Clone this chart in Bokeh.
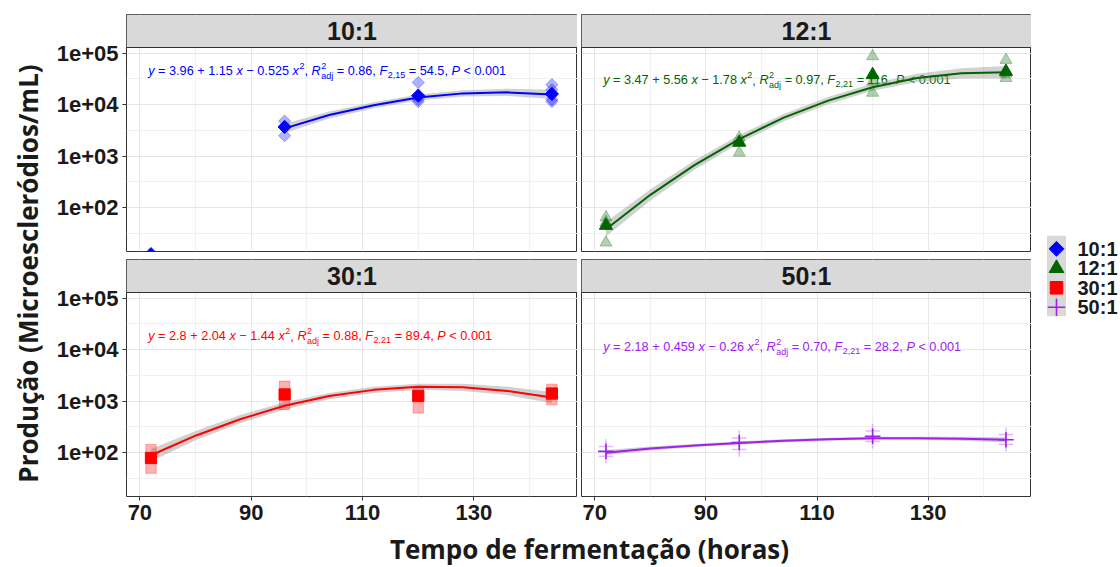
import math
from bokeh.plotting import figure
from bokeh.models import (Range1d, LogAxis, LinearAxis, FixedTicker, Grid, Label, Span,
                          CustomJSTickFormatter)
from bokeh.layouts import row, column
from bokeh.core.properties import value
from bokeh.embed import file_html
from bokeh.resources import INLINE

# ------------------------------------------------------------------ data
panel_labels = ["10:1", "12:1", "30:1", "50:1"]
colors = {"10:1": "#0000FF", "12:1": "#006400", "30:1": "#FF0000", "50:1": "#A020F0"}
markers = {"10:1": "diamond", "12:1": "triangle", "30:1": "square", "50:1": "cross"}

hours = [72, 96, 120, 144]
mean_10 = [12.5, 3700, 15000, 16200]
mean_12 = [45, 1850, 38000, 44000]
mean_30 = [79, 1350, 1260, 1410]
mean_50 = [106, 158, 209, 178]

rep_hours_10 = [96, 96, 120, 120, 120, 144, 144, 144, 144]
rep_10 = [4800, 2500, 27000, 11500, 12600, 24500, 19500, 12600, 11500]
rep_hours_12 = [72, 72, 72, 96, 96, 120, 120, 120, 144, 144, 144]
rep_12 = [65, 52, 21, 2300, 1170, 87000, 28000, 17000, 74000, 40000, 33000]
rep_hours_30 = [72, 72, 96, 96, 120, 120, 144, 144]
rep_30 = [115, 50, 1950, 870, 1450, 740, 1700, 1070]
rep_hours_50 = [72, 72, 96, 96, 120, 120, 144, 144]
rep_50 = [132, 85, 193, 115, 263, 166, 224, 145]

# fitted curves (log10 of production) and half-width of the grey band
fit_hours_10 = [96, 104, 112, 120, 128, 136, 144]
fit_hours = [72, 80, 88, 96, 104, 112, 120, 128, 136, 144]
fit_log_10 = [3.54, 3.80, 3.99, 4.14, 4.22, 4.24, 4.20]
fit_log_12 = [1.58, 2.25, 2.83, 3.33, 3.75, 4.08, 4.34, 4.52, 4.61, 4.63]
fit_log_30 = [1.95, 2.33, 2.65, 2.91, 3.10, 3.22, 3.28, 3.27, 3.20, 3.07]
fit_log_50 = [2.00, 2.08, 2.14, 2.19, 2.23, 2.26, 2.28, 2.28, 2.27, 2.25]
band_10 = [0.09, 0.07, 0.06, 0.06, 0.06, 0.07, 0.09]
band_12 = [0.14, 0.11, 0.09, 0.08, 0.07, 0.07, 0.07, 0.08, 0.10, 0.12]
band_30 = [0.12, 0.09, 0.08, 0.07, 0.06, 0.06, 0.06, 0.07, 0.08, 0.11]
band_50 = [0.05, 0.04, 0.03, 0.03, 0.03, 0.03, 0.03, 0.03, 0.04, 0.05]

# equation texts: intercept, linear, quadratic, R2adj, F df, F value
eq_10 = ["3.96", "1.15", "0.525", "0.86", "2,15", "54.5"]
eq_12 = ["3.47", "5.56", "1.78", "0.97", "2,21", "116"]
eq_30 = ["2.8", "2.04", "1.44", "0.88", "2,21", "89.4"]
eq_50 = ["2.18", "0.459", "0.26", "0.70", "2,21", "28.2"]
eq_pos_log = [4.655, 4.474, 4.266, 4.057]

x_ticks = [70, 90, 110, 130]
x_minor = [80, 100, 120, 140]
y_ticks = [1e2, 1e3, 1e4, 1e5]

series = {
    "10:1": dict(mean=mean_10, rh=rep_hours_10, rv=rep_10, fh=fit_hours_10, fl=fit_log_10, bd=band_10, eq=eq_10),
    "12:1": dict(mean=mean_12, rh=rep_hours_12, rv=rep_12, fh=fit_hours, fl=fit_log_12, bd=band_12, eq=eq_12),
    "30:1": dict(mean=mean_30, rh=rep_hours_30, rv=rep_30, fh=fit_hours, fl=fit_log_30, bd=band_30, eq=eq_30),
    "50:1": dict(mean=mean_50, rh=rep_hours_50, rv=rep_50, fh=fit_hours, fl=fit_log_50, bd=band_50, eq=eq_50),
}

# ------------------------------------------------------------------ style / layout
X_RANGE = (67.6, 148.6)
Y_LO_LOG, Y_HI_LOG = 1.149, 5.111
PANEL_PX, STRIP_PX = 204, 33
STRIP_TOP_LOG = Y_HI_LOG + STRIP_PX * (Y_HI_LOG - Y_LO_LOG) / PANEL_PX
FONT = "Liberation Sans"
TITLE_FONT = "Open Sans"
TICK_SIZE = "22px"
EQ_SIZE = 12.7
EQ_SMALL = 9.0
y_minor = [math.sqrt(a * b) for a, b in zip([10.0] + y_ticks[:-1], y_ticks)]

CW = {' ': 278, '.': 278, ',': 278, '=': 584, '+': 584, '\u2212': 584, '<': 584,
      'x': 500, 'y': 500, 'R': 722, 'F': 611, 'P': 667, 'a': 556, 'd': 556, 'j': 222}


def tw(s, size):
    return sum(CW.get(c, 556) for c in s) * size / 1000.0


def clean(p):
    p.center = [r for r in p.center if not isinstance(r, Grid)]


def marker_kw(name, size, alpha=1.0):
    col = colors[name]
    mk = markers[name]
    if mk == "cross":
        return dict(marker="cross", size=size * 1.25, line_color=col, line_width=1.6,
                    line_alpha=alpha)
    if mk == "diamond":
        return dict(marker="square", angle=math.pi / 4, size=size * 0.75, fill_color=col,
                    line_color=col, fill_alpha=alpha, line_alpha=alpha)
    if mk == "square":
        return dict(marker="square", size=size * 0.9, fill_color=col, line_color=col,
                    fill_alpha=alpha, line_alpha=alpha)
    return dict(marker="triangle", size=size * 1.05, fill_color=col, line_color=col,
                fill_alpha=alpha, line_alpha=alpha)


def add_eq(p, x, y, color, eq):
    b0, b1, b2, r2, df, fv = eq
    parts = [("y", "i"), (" = %s + %s " % (b0, b1), "n"), ("x", "i"),
             (" \u2212 %s " % b2, "n"), ("x", "i"), ("2", "sup"), (", ", "n"),
             ("R", "i"), (("2", "adj"), "supsub"), (" = %s, " % r2, "n"),
             ("F", "i"), (df, "sub"), (" = %s, " % fv, "n"), ("P", "i"),
             (" < 0.001", "n")]
    off = 0.0
    common = dict(x=x, y=y, text_color=color, text_font=FONT, text_baseline="middle",
                  text_align="left", level="underlay")
    for txt, kind in parts:
        if kind in ("n", "i"):
            lead = len(txt) - len(txt.lstrip(" "))
            s = txt.strip(" ")
            p.add_layout(Label(text=s, x_offset=off + tw(" " * lead, EQ_SIZE), y_offset=0,
                               text_font_size="%.1fpx" % EQ_SIZE,
                               text_font_style="italic" if kind == "i" else "normal", **common))
            off += tw(txt, EQ_SIZE)
        elif kind == "sup":
            p.add_layout(Label(text=txt, x_offset=off + 0.5, y_offset=5,
                               text_font_size="%.1fpx" % EQ_SMALL, **common))
            off += tw(txt, EQ_SMALL) + 0.5
        elif kind == "sub":
            p.add_layout(Label(text=txt, x_offset=off + 0.5, y_offset=-4,
                               text_font_size="%.1fpx" % EQ_SMALL, **common))
            off += tw(txt, EQ_SMALL) + 0.5
        else:
            sup, sub = txt
            p.add_layout(Label(text=sup, x_offset=off + 0.5, y_offset=5,
                               text_font_size="%.1fpx" % EQ_SMALL, **common))
            p.add_layout(Label(text=sub, x_offset=off + 0.5, y_offset=-5,
                               text_font_size="%.1fpx" % EQ_SMALL, **common))
            off += max(tw(sup, EQ_SMALL), tw(sub, EQ_SMALL)) + 0.5


def style_axis(ax):
    ax.axis_line_color = None
    ax.major_tick_line_color = "#333333"
    ax.major_tick_in = 0
    ax.major_tick_out = 4
    ax.minor_tick_line_color = None
    ax.major_label_text_font = FONT
    ax.major_label_text_font_style = "bold"
    ax.major_label_text_font_size = TICK_SIZE
    ax.major_label_text_color = "#1A1A1A"
    ax.major_label_standoff = 4


def panel(name, idx, width, height, left, top, bottom, show_y, show_x):
    # frame = strip (top STRIP_PX) + data panel (PANEL_PX)
    p = figure(width=width, height=height, x_range=Range1d(*X_RANGE),
               y_range=Range1d(10 ** Y_LO_LOG, 10 ** STRIP_TOP_LOG), y_axis_type="log",
               x_axis_location=None, y_axis_location=None,
               toolbar_location=None, output_backend="svg",
               min_border=0, min_border_left=left, min_border_top=top,
               min_border_bottom=bottom)
    clean(p)
    p.background_fill_color = "white"
    p.border_fill_color = "white"
    p.outline_line_color = "#333333"
    p.outline_line_width = 1
    xt = FixedTicker(ticks=x_ticks, minor_ticks=x_minor)
    yt = FixedTicker(ticks=y_ticks, minor_ticks=y_minor)
    for dim, tk in ((0, xt), (1, yt)):
        p.add_layout(Grid(dimension=dim, ticker=tk, grid_line_color="#E6E6E6",
                          grid_line_width=1, minor_grid_line_color="#F0F0F0",
                          minor_grid_line_width=1), "center")
    if show_y:
        ya = LogAxis(ticker=yt, formatter=CustomJSTickFormatter(
            code='return "1e+" + String(Math.round(Math.log10(tick))).padStart(2, "0");'))
        style_axis(ya)
        p.add_layout(ya, "left")
    if show_x:
        xa = LinearAxis(ticker=xt)
        style_axis(xa)
        p.add_layout(xa, "below")

    d = series[name]
    col = colors[name]
    add_eq(p, 71.5, 10 ** eq_pos_log[idx], col, d["eq"])
    lo = [10 ** (v - b) for v, b in zip(d["fl"], d["bd"])]
    hi = [10 ** (v + b) for v, b in zip(d["fl"], d["bd"])]
    p.varea(x=d["fh"], y1=lo, y2=hi, fill_color="#999999", fill_alpha=0.45)
    p.scatter(d["rh"], d["rv"], **marker_kw(name, 11.5, 0.3))
    p.line(d["fh"], [10 ** v for v in d["fl"]], line_color=col, line_width=2)
    p.scatter(hours, d["mean"], **marker_kw(name, 12.5))

    # facet strip on top of the frame
    p.quad(left=[X_RANGE[0]], right=[X_RANGE[1]], bottom=[10 ** Y_HI_LOG],
           top=[10 ** STRIP_TOP_LOG], fill_color="#D9D9D9", line_color=None)
    p.add_layout(Span(location=10 ** Y_HI_LOG, dimension="width", line_color="#333333",
                      line_width=1))
    p.text(x=[(X_RANGE[0] + X_RANGE[1]) / 2], y=[10 ** ((Y_HI_LOG + STRIP_TOP_LOG) / 2)],
           text=[name], text_align="center", text_baseline="middle",
           text_font=value(FONT), text_font_style="bold", text_font_size="25px",
           text_color="#1A1A1A")
    return p


def blank(width, height):
    b = figure(width=width, height=height, x_range=Range1d(0, width), y_range=Range1d(0, height),
               x_axis_location=None, y_axis_location=None, toolbar_location=None,
               output_backend="svg", min_border=0)
    clean(b)
    b.outline_line_color = None
    b.background_fill_color = "white"
    b.border_fill_color = "white"
    return b


LW, RW = 532, 454
LB, RB = 81, 4
BOT_BORDER = 33
TOP_H = 14 + STRIP_PX + PANEL_PX + 8          # 259
BOT_H = STRIP_PX + PANEL_PX + BOT_BORDER      # 270
ROW_H = TOP_H + BOT_H                         # 529

left_col = column(
    panel(panel_labels[0], 0, LW, TOP_H, LB, 14, 8, True, False),
    panel(panel_labels[2], 2, LW, BOT_H, LB, 0, BOT_BORDER, True, True),
    spacing=0)
right_col = column(
    panel(panel_labels[1], 1, RW, TOP_H, RB, 14, 8, False, False),
    panel(panel_labels[3], 3, RW, BOT_H, RB, 0, BOT_BORDER, False, True),
    spacing=0)

# y title
yt_fig = blank(45, ROW_H)
yt_fig.text(x=[27], y=[ROW_H - 273], text=["Produção (Microescleródios/mL)"], angle=math.pi / 2,
            text_align="center", text_baseline="middle", text_font=value(TITLE_FONT),
            text_font_style="bold", text_font_size="26px", text_color="#1A1A1A")

# legend
lg = blank(89, ROW_H)
leg_top, leg_step, key_x, key_w = ROW_H - 248.3, 19.5, 25, 19
leg_y = [leg_top - i * leg_step for i in range(len(panel_labels))]
lg.quad(left=[key_x - key_w / 2], right=[key_x + key_w / 2],
        top=[leg_y[0] + 13], bottom=[leg_y[-1] - 9], fill_color="#D9D9D9", line_color=None)
for name, yy in zip(panel_labels, leg_y):
    lg.scatter([key_x], [yy], **marker_kw(name, 14))
lg.text(x=[46] * 4, y=leg_y, text=panel_labels, text_align="left", text_baseline="middle",
        text_font=value(FONT), text_font_style="bold", text_font_size="20px",
        text_color="#1A1A1A")

# x title
XT_H = 567 - ROW_H                            # 38
xt_fig = blank(1120, XT_H)
xt_fig.text(x=[589], y=[XT_H - 19], text=["Tempo de fermentação (horas)"], text_align="center",
            text_baseline="middle", text_font=value(TITLE_FONT), text_font_style="bold",
            text_font_size="26px", text_color="#1A1A1A")

layout = column(row(yt_fig, left_col, right_col, lg, spacing=0), xt_fig, spacing=0)

open("out.html", "w").write(file_html(layout, INLINE))
